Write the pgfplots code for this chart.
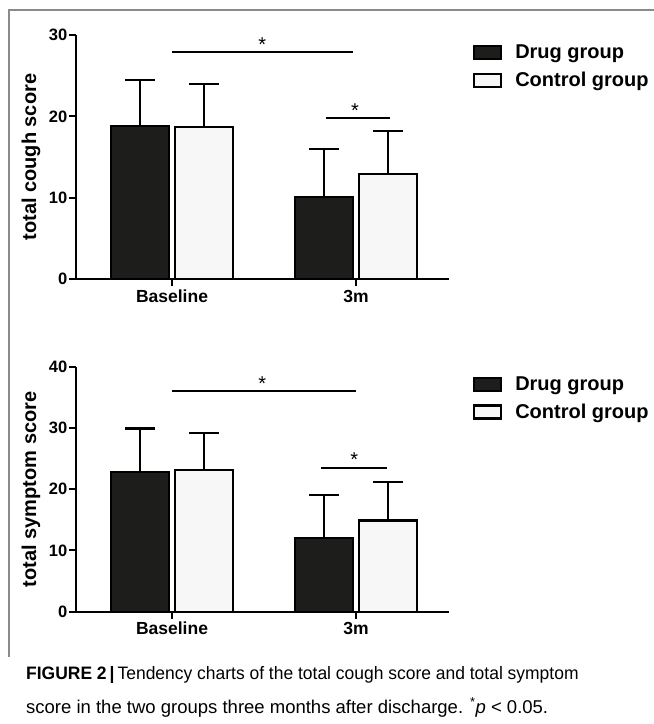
\documentclass[border=0pt]{standalone}
\usepackage{pgfplots}
\pgfplotsset{compat=1.18}
\usepackage{fontspec}
\setmainfont{Liberation Sans}
\newfontfamily\capfont[FakeStretch=0.97]{Liberation Sans}
\newfontfamily\capfontb[FakeStretch=1.0]{Liberation Sans}
\definecolor{drug}{HTML}{1D1E1B}
\definecolor{ctrl}{HTML}{F7F7F7}
\definecolor{framec}{HTML}{8A8A8A}

\pgfplotsset{
  mybar/.style={
    scale only axis, width=373pt, anchor=south west,
    axis x line*=bottom, axis y line*=left,
    axis line style={line width=2.2pt,-,black},
    xmin=-0.5217, xmax=1.5054, ymin=0,
    xtick={0,1}, xticklabels={Baseline,3m},
    tick style={line width=2pt, black}, major tick length=7pt, tick align=outside,
    /pgf/number format/assume math mode=true,
    xticklabel style={font=\bfseries\fontsize{17.5}{17.5}\selectfont},
    yticklabel style={font=\bfseries\fontsize{16.5}{16.5}\selectfont, inner sep=1.5pt},
    every axis y label/.style={at={(rel axis cs:-0.1207,0.5)}, rotate=90, anchor=center, font=\bfseries\fontsize{20}{20}\selectfont},
    legend style={at={(rel axis cs:1.064,0.968)}, anchor=north west, draw=none, fill=none,
      font=\bfseries\fontsize{20}{20}\selectfont, row sep=8pt, inner sep=0pt,
      cells={anchor=west}, /tikz/every odd column/.append style={column sep=11pt}},
    legend image code/.code={\draw[#1] (0pt,-6.5pt) rectangle (27pt,6.5pt);},
    axis on top,
  },
  drugbar/.style={ybar, bar width=58pt, bar shift=-32pt, fill=drug, draw=black, line width=2.2pt},
  ctrlbar/.style={ybar, bar width=58pt, bar shift=32pt, fill=ctrl, draw=black, line width=2.2pt},
  errbar/.style={draw=none, mark=none, forget plot,
    error bars/.cd, y dir=plus, y explicit, error mark=|,
    error bar style={draw=black, line width=2.3pt},
    error mark options={draw=black, line width=2.3pt, mark size=15pt}},
}

\begin{document}
\begin{tikzpicture}
\path[use as bounding box] (0,0) rectangle (654pt,-724pt);
\draw[framec, line width=1.2pt] (9pt,-657pt) -- (9pt,-10pt) -- (654pt,-10pt);

% ---- plot 1: total cough score
\begin{axis}[mybar, at={(76pt,-279.3pt)}, height=244.3pt, ymax=30, ytick={0,10,20,30},
  ylabel={total cough score}]
\addplot[drugbar] coordinates {(0,18.8) (1,10.15)};
\addlegendentry{Drug group}
\addplot[ctrlbar] coordinates {(0,18.7) (1,12.9)};
\addlegendentry{Control group}
\addplot[errbar] coordinates {(-0.1739,18.8) +- (0,5.7) (0.8261,10.15) +- (0,5.85)};
\addplot[errbar] coordinates {(0.1739,18.7) +- (0,5.3) (1.1739,12.9) +- (0,5.35)};
\draw[line width=1.8pt] (axis cs:0,27.9) -- (axis cs:0.984,27.9);
\node[anchor=base, inner sep=0pt, yshift=1pt, font=\fontsize{20}{20}\selectfont] at (axis cs:0.49,27.9) {*};
\draw[line width=1.8pt] (axis cs:0.837,19.8) -- (axis cs:1.185,19.8);
\node[anchor=base, inner sep=0pt, yshift=1pt, font=\fontsize{20}{20}\selectfont] at (axis cs:0.995,19.8) {*};
\end{axis}

% ---- plot 2: total symptom score
\begin{axis}[mybar, at={(76pt,-611.7pt)}, height=245pt, ymax=40, ytick={0,10,20,30,40},
  ylabel={total symptom score}]
\addplot[drugbar] coordinates {(0,22.85) (1,12.0)};
\addlegendentry{Drug group}
\addplot[ctrlbar] coordinates {(0,23.1) (1,14.9)};
\addlegendentry{Control group}
\addplot[errbar] coordinates {(-0.1739,22.85) +- (0,7.05) (0.8261,12.0) +- (0,7.1)};
\addplot[errbar] coordinates {(0.1739,23.1) +- (0,6.1) (1.1739,14.9) +- (0,6.3)};
\draw[line width=1.8pt] (axis cs:0,36.0) -- (axis cs:1.0,36.0);
\node[anchor=base, inner sep=0pt, yshift=1pt, font=\fontsize{20}{20}\selectfont] at (axis cs:0.49,36.0) {*};
\draw[line width=1.8pt] (axis cs:0.81,23.5) -- (axis cs:1.168,23.5);
\node[anchor=base, inner sep=0pt, yshift=1pt, font=\fontsize{20}{20}\selectfont] at (axis cs:0.99,23.5) {*};
\end{axis}

% ---- caption
\node[anchor=base west, inner sep=0pt, font=\capfont\fontsize{18}{18}\selectfont] at (26pt,-679pt)
  {\textbf{FIGURE 2\,|}\,Tendency charts of the total cough score and total symptom};
\node[anchor=base west, inner sep=0pt, font=\capfontb\fontsize{18.5}{18.5}\selectfont] at (26pt,-713pt)
  {score in the two groups three months after discharge. \textsuperscript{*}\textit{p} < 0.05.};
\end{tikzpicture}
\end{document}
